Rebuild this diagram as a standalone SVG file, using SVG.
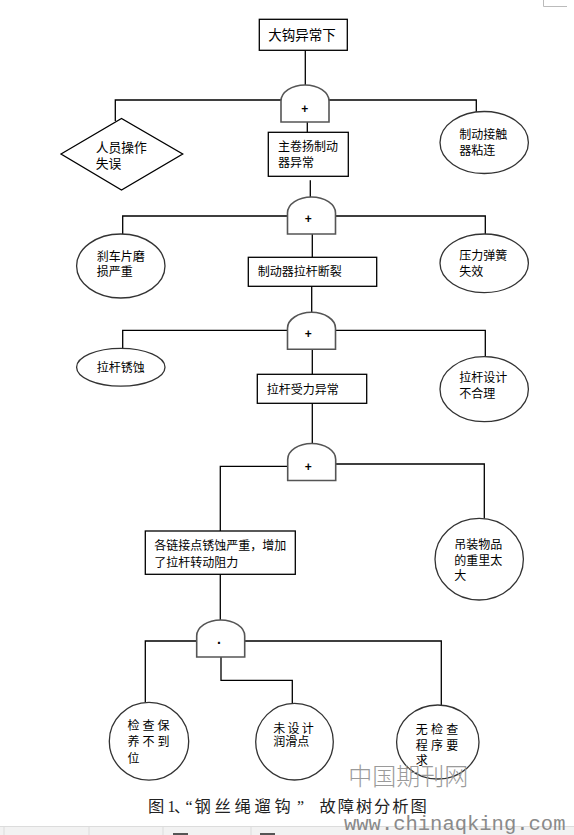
<svg xmlns="http://www.w3.org/2000/svg" xmlns:xlink="http://www.w3.org/1999/xlink" width="574" height="835" viewBox="0 0 574 835">
<style>
.t{font-family:"Liberation Sans","Noto Sans CJK SC",sans-serif;font-size:12px;fill:#000}
.box{fill:#fff;stroke:#000;stroke-width:1.3}
.ell{fill:#fff;stroke:#333;stroke-width:1.3}
.gate{fill:#fff;stroke:#555;stroke-width:1.6}
.sym{font-family:"Liberation Sans",sans-serif;font-size:12px;font-weight:bold;fill:#000;text-anchor:middle}
.cn{fill:none;stroke:#000;stroke-width:1.3}
.cap{font-family:"Liberation Serif","Noto Sans CJK SC",serif;font-size:16px;fill:#222}
.capc{font-family:"Noto Sans CJK SC",sans-serif;font-size:16.3px;fill:#222}
</style>
<defs>
<path id="gate" d="M0,37 V16 A24,16 0 0 1 48,16 V37 Z"/>
</defs>
<rect width="574" height="835" fill="#fff"/>
<path d="M543.5,0 V6.5 H567" fill="none" stroke="#bbb" stroke-width="1"/>

<g id="connectors">
<path class="cn" d="M305.3,50.3 V85"/>
<path class="cn" d="M115.3,121 V100 H281"/>
<path class="cn" d="M329,100 H476.3 V112"/>
<path class="cn" d="M307.3,122 V132.3"/>
<path class="cn" d="M310.3,180.3 V197"/>
<path class="cn" d="M122.7,234 V216 H287.5"/>
<path class="cn" d="M335.5,216 H485.3 V234.3"/>
<path class="cn" d="M312.3,234 V257.3"/>
<path class="cn" d="M311.7,286.3 V312.3"/>
<path class="cn" d="M122.7,348.3 V330.3 H287.5"/>
<path class="cn" d="M335.5,330.3 H485.3 V356.7"/>
<path class="cn" d="M312.3,349 V374.3"/>
<path class="cn" d="M312.3,403.3 V443.3"/>
<path class="cn" d="M287.7,466.3 H220.3 V531"/>
<path class="cn" d="M335.7,464 H484.3 V518.6"/>
<path class="cn" d="M220.3,574.3 V620"/>
<path class="cn" d="M196.7,641 H145.3 V702.3"/>
<path class="cn" d="M244.3,641 H441.3 V705"/>
<path class="cn" d="M221,657 V680.3 H292.3 V703.3"/>
</g>

<g id="top">
<rect class="box" x="259.3" y="19.3" width="88" height="31"/>
<text class="t" x="268.3" y="40" style="font-size:13.5px">大钩异常下</text>
</g>
<g id="gate1">
<use xlink:href="#gate" class="gate" x="281" y="85"/>
<text class="sym" x="304.7" y="112.5">+</text>
</g>
<g id="human-error">
<polygon class="box" points="61,154 121.5,118.5 182.7,154 121.5,190"/>
<text class="t" x="95.7" y="152" style="font-size:12.8px">人员操作</text>
<text class="t" x="95.7" y="167.5" style="font-size:12.8px">失误</text>
</g>
<g id="main-brake">
<rect class="box" x="268.3" y="132.3" width="80" height="44"/>
<text class="t" x="278" y="150.5">主卷扬制动</text>
<text class="t" x="278" y="166.5">器异常</text>
</g>
<g id="contactor">
<ellipse class="ell" cx="484.2" cy="142.5" rx="44.2" ry="31"/>
<text class="t" x="459.3" y="138.5">制动接触</text>
<text class="t" x="459.3" y="155">器粘连</text>
</g>
<g id="gate2">
<use xlink:href="#gate" class="gate" x="287.5" y="197"/>
<text class="sym" x="308.3" y="222.5">+</text>
</g>
<g id="pad-wear">
<ellipse class="ell" cx="120.8" cy="266" rx="44.2" ry="32"/>
<text class="t" x="96.7" y="261">刹车片磨</text>
<text class="t" x="96.7" y="276">损严重</text>
</g>
<g id="spring">
<ellipse class="ell" cx="484.2" cy="263.3" rx="44.2" ry="29.3"/>
<text class="t" x="459.3" y="260">压力弹簧</text>
<text class="t" x="459.3" y="276">失效</text>
</g>
<g id="rod-break">
<rect class="box" x="248.3" y="257.3" width="128.4" height="29"/>
<text class="t" x="257.7" y="275.5">制动器拉杆断裂</text>
</g>
<g id="gate3">
<use xlink:href="#gate" class="gate" x="287.5" y="312.3"/>
<text class="sym" x="308.3" y="337.5">+</text>
</g>
<g id="rod-corrosion">
<ellipse class="ell" cx="120.8" cy="367.2" rx="44.2" ry="18.9"/>
<text class="t" x="96.7" y="372">拉杆锈蚀</text>
</g>
<g id="rod-design">
<ellipse class="ell" cx="484.2" cy="389.2" rx="44.2" ry="32.5"/>
<text class="t" x="459.3" y="382">拉杆设计</text>
<text class="t" x="459.3" y="398">不合理</text>
</g>
<g id="rod-force">
<rect class="box" x="257.3" y="374.3" width="109.4" height="29"/>
<text class="t" x="266.7" y="393.5">拉杆受力异常</text>
</g>
<g id="gate4">
<use xlink:href="#gate" class="gate" x="287.7" y="443.5"/>
<text class="sym" x="308.3" y="471">+</text>
</g>
<g id="joints">
<rect class="box" x="145.3" y="531" width="150" height="43.3"/>
<text class="t" x="154.3" y="550">各链接点锈蚀严重，增加</text>
<text class="t" x="154.3" y="567">了拉杆转动阻力</text>
</g>
<g id="load">
<ellipse class="ell" cx="479.2" cy="559.2" rx="44.2" ry="40.8"/>
<text class="t" x="454.3" y="548.5">吊装物品</text>
<text class="t" x="454.3" y="564.5">的重里太</text>
<text class="t" x="454.3" y="580">大</text>
</g>
<g id="gate5">
<use xlink:href="#gate" class="gate" x="196.7" y="620"/>
<text class="sym" x="219.3" y="648" style="font-size:14px">·</text>
</g>
<g id="maintenance">
<ellipse class="ell" cx="149" cy="741.2" rx="39.7" ry="38.9"/>
<text class="t" x="127.5 142.5 157.5" y="729.5">检查保</text>
<text class="t" x="127.5 142.5 157.5" y="746">养不到</text>
<text class="t" x="127.5" y="762.5">位</text>
</g>
<g id="lubrication">
<ellipse class="ell" cx="294.5" cy="741.7" rx="38.8" ry="38.3"/>
<text class="t" x="273.3 287.5 301.7" y="733">未设计</text>
<text class="t" x="273.3" y="746.3">润滑点</text>
</g>
<g id="inspection">
<ellipse class="ell" cx="437.8" cy="742" rx="41.2" ry="37"/>
<text class="t" x="415.7 431 446.3" y="733.5">无检查</text>
<text class="t" x="415.7 431 446.3" y="749.5">程序要</text>
<text class="t" x="415.7" y="764.5">求</text>
</g>

<text x="348.3" y="785" style="font-family:'Noto Sans CJK SC',sans-serif;font-size:24px;font-weight:300;fill:#9a9a9a">中国期刊网</text>

<g id="caption">
<text class="capc" x="148" y="812">图</text>
<text class="cap" x="167.5 174 185.5" y="812">1、“</text>
<text class="capc" x="194.5 214.5 234.5 254.5 274.5" y="812">钢丝绳遛钩</text>
<text class="cap" x="297" y="812">”</text>
<text class="capc" x="319.5 337.7 355.9 374.1 392.3 410.5" y="812">故障树分析图</text>
</g>

<rect x="0" y="826" width="574" height="9" fill="#f2f2f2"/>
<path d="M0,826.5 H574 M4,827 V835 M89,827 V835 M163,827 V835 M251,827 V835" fill="none" stroke="#dcdcdc" stroke-width="1"/>
<rect x="173" y="833" width="15" height="2" fill="#555"/>
<rect x="260" y="833" width="15" height="2" fill="#555"/>
<text x="344" y="829.5" style="font-family:'Liberation Mono',monospace;font-size:20.5px;fill:#8a8a8a">www.chinaqking.com</text>
</svg>
